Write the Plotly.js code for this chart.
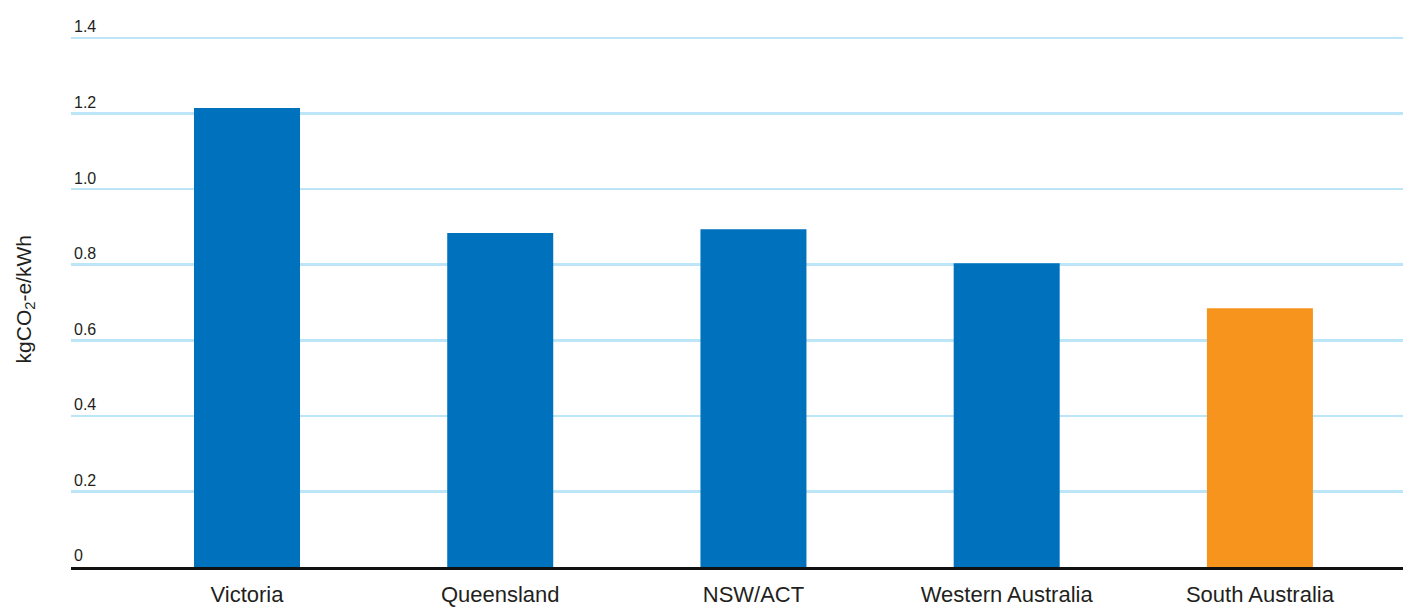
<!DOCTYPE html>
<html>
<head>
<meta charset="utf-8">
<script src="https://cdn.plot.ly/plotly-3.0.1.min.js"></script>
<style>
html,body{margin:0;padding:0;background:#fff;}
#chart{width:1403px;height:607px;}
</style>
</head>
<body>
<div id="chart"></div>
<script>
// Data
const regions = ["Victoria", "Queensland", "NSW/ACT", "Western Australia", "South Australia"];
const emissions = [1.215, 0.884, 0.894, 0.804, 0.685];
const barColors = ["#0071bc", "#0071bc", "#0071bc", "#0071bc", "#f7941d"];
const yTicks = [0, 0.2, 0.4, 0.6, 0.8, 1.0, 1.2, 1.4];
const yTickText = ["0", "0.2", "0.4", "0.6", "0.8", "1.0", "1.2", "1.4"];
const yTitle = "kgCO<sub>2</sub>-e/kWh";

const FONT = '"Liberation Sans", Arial, sans-serif';

const trace = {
  type: "bar",
  x: regions,
  y: emissions,
  marker: {color: barColors, line: {width: 0}},
  width: 0.4186,
  hoverinfo: "x+y"
};

const layout = {
  width: 1403,
  height: 607,
  margin: {l: 71, r: 0, t: 0, b: 40, pad: 0},
  paper_bgcolor: "#ffffff",
  plot_bgcolor: "#ffffff",
  showlegend: false,
  font: {family: FONT, color: "#231f20"},
  xaxis: {
    type: "category",
    range: [-0.695, 4.565],
    showgrid: false,
    zeroline: false,
    showline: true,
    linecolor: "#111111",
    linewidth: 2.5,
    ticks: "",
    ticklabelstandoff: 6,
    tickfont: {family: FONT, size: 22, color: "#231f20"},
    automargin: false,
    fixedrange: true
  },
  yaxis: {
    range: [0, 1.5005],
    tickvals: yTicks,
    ticktext: yTickText,
    ticklabelposition: "inside top",
    tickfont: {family: FONT, size: 16, color: "#231f20"},
    showgrid: true,
    gridcolor: "#bde5f8",
    gridwidth: 2.5,
    zeroline: false,
    showline: false,
    ticks: "",
    automargin: false,
    fixedrange: true
  },
  annotations: [{
    text: yTitle,
    xref: "paper", yref: "paper",
    x: -0.0345, y: 0.472,
    xanchor: "center", yanchor: "middle",
    textangle: -90,
    showarrow: false,
    font: {family: FONT, size: 21, color: "#231f20"}
  }]
};

Plotly.newPlot("chart", [trace], layout, {displayModeBar: false, staticPlot: true});
</script>
</body>
</html>
